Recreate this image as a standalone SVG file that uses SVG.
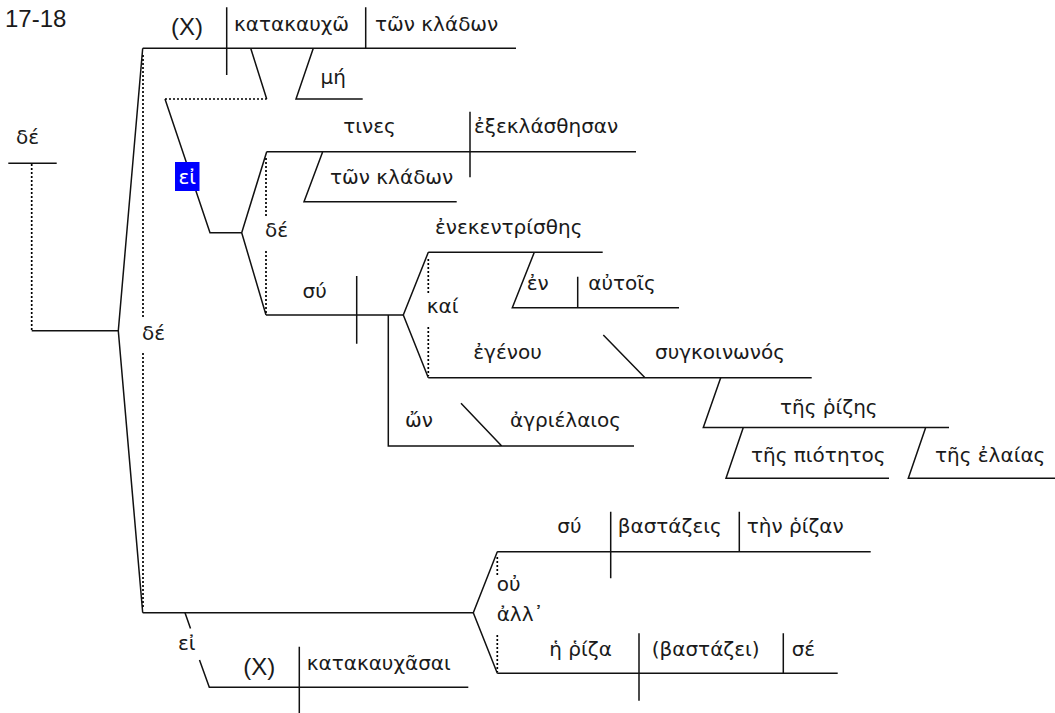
<svg xmlns="http://www.w3.org/2000/svg" width="1055" height="713" viewBox="0 0 1055 713">
<style>
.ln{fill:none;stroke:#111;stroke-width:1.5}
.dt{fill:none;stroke:#000;stroke-width:1.7;stroke-dasharray:2 2}
.g{font-family:"DejaVu Sans",Verdana,sans-serif;font-size:20px;fill:#1a1a1a}
.a{font-family:"Liberation Sans",Arial,sans-serif;font-size:24px;fill:#1a1a1a}
.w{fill:#fff}
</style>
<rect width="1055" height="713" fill="#fff"/>
<g id="connectors">
<path class="ln" d="M142.7 48.3H516M226.7 7.3V75M365.7 7.3V48.3M250.7 48.3L266.7 99M313.3 48.3L296 99H362.7M165 99L210 232.7H241.7"/>
<path class="dt" d="M165 99H266.7"/>
<path class="ln" d="M266.7 151.7L241.7 232.7L266 315M266.7 151.7H636M470 111.7V177.3M322.7 151.7L304 201.7H456.7M266 315H403.3M356.7 276V343.7"/>
<path class="dt" d="M266 158V216M266 251V313"/>
<path class="ln" d="M428.3 252.3L403.3 315L428.3 377.7M428.3 252.3H602.7M534.3 252.3L512.3 307.7H679M577.7 276.7V307.7M428.3 377.7H811.7M603.3 335L645 377.7"/>
<path class="dt" d="M428.3 259V295M428.3 327V376"/>
<path class="ln" d="M720.7 377.7L703.3 427.5H949M743.3 427.5L726 478.3H889M925.7 427.5L908.3 478.3H1055M388.3 315V446H634M461 403.3L501.7 446"/>
<path class="ln" d="M8.3 163.3H56.7M31.7 330.7H118.3M142.7 48.3L118.3 330.7L142.7 612.7M142.7 612.7H473.3"/>
<path class="dt" d="M31.7 164V330M143 55V317M143 353V607"/>
<path class="ln" d="M185 612.7L190.5 628.5M199.5 660L209.3 687.3H468.3M299.3 646.7V713M497.3 551.7L473.3 612.7L497.3 673.3M497.3 551.7H870.7M610.7 511.7V578.3M739.3 511.7V551.7M497.3 673.3H837.7M639 633.3V700.7M783.3 633.3V673.3"/>
<path class="dt" d="M497.3 557V577M497.3 635V672"/>
</g>
<g id="title"><text class="a" x="5" y="27">17-18</text></g>
<g id="n-x1"><text class="a" x="171" y="35">(X)</text></g>
<g id="n-katakauxw"><text class="g" x="234" y="31">κατακαυχῶ</text></g>
<g id="n-twn-kladwn1"><text class="g" x="375" y="31">τῶν κλάδων</text></g>
<g id="n-mh"><text class="g" x="320.5" y="84">μή</text></g>
<g id="n-ei1"><rect x="175" y="162" width="24.5" height="29" fill="#0000ff"/><text class="g w" x="187.2" y="184" text-anchor="middle">εἰ</text></g>
<g id="n-tines"><text class="g" x="343.3" y="133">τινες</text></g>
<g id="n-exeklasthesan"><text class="g" x="474" y="133">ἐξεκλάσθησαν</text></g>
<g id="n-twn-kladwn2"><text class="g" x="330" y="184">τῶν κλάδων</text></g>
<g id="n-de2"><text class="g" x="265" y="237">δέ</text></g>
<g id="n-enekentristhes"><text class="g" x="435" y="234">ἐνεκεντρίσθης</text></g>
<g id="n-su1"><text class="g" x="302.6" y="298">σύ</text></g>
<g id="n-kai"><text class="g" x="426.7" y="313">καί</text></g>
<g id="n-en"><text class="g" x="526.7" y="290">ἐν</text></g>
<g id="n-autois"><text class="g" x="588.3" y="290">αὐτοῖς</text></g>
<g id="n-egenou"><text class="g" x="473.3" y="359">ἐγένου</text></g>
<g id="n-sugkoinwnos"><text class="g" x="655" y="359">συγκοινωνός</text></g>
<g id="n-wn"><text class="g" x="405" y="427">ὤν</text></g>
<g id="n-agrielaios"><text class="g" x="510" y="427">ἀγριέλαιος</text></g>
<g id="n-ths-rizhs"><text class="g" x="780" y="414">τῆς ῥίζης</text></g>
<g id="n-ths-piothtos"><text class="g" x="751" y="462">τῆς πιότητος</text></g>
<g id="n-ths-elaias"><text class="g" x="935" y="462">τῆς ἐλαίας</text></g>
<g id="n-de0"><text class="g" x="16" y="144">δέ</text></g>
<g id="n-de1"><text class="g" x="142" y="340">δέ</text></g>
<g id="n-ei2"><text class="g" x="178" y="650">εἰ</text></g>
<g id="n-x2"><text class="a" x="243.3" y="675">(X)</text></g>
<g id="n-katakauxasai"><text class="g" x="306.7" y="670">κατακαυχᾶσαι</text></g>
<g id="n-ou"><text class="g" x="496.7" y="591">οὐ</text></g>
<g id="n-all"><text class="g" x="496.7" y="621">ἀλλ᾽</text></g>
<g id="n-su2"><text class="g" x="557.3" y="533">σύ</text></g>
<g id="n-bastazeis"><text class="g" x="617.7" y="533">βαστάζεις</text></g>
<g id="n-thn-rizan"><text class="g" x="746.7" y="533">τὴν ῥίζαν</text></g>
<g id="n-h-riza"><text class="g" x="549.3" y="656">ἡ ῥίζα</text></g>
<g id="n-bastazei"><text class="g" x="651.7" y="656">(βαστάζει)</text></g>
<g id="n-se"><text class="g" x="791.7" y="656">σέ</text></g>
</svg>
